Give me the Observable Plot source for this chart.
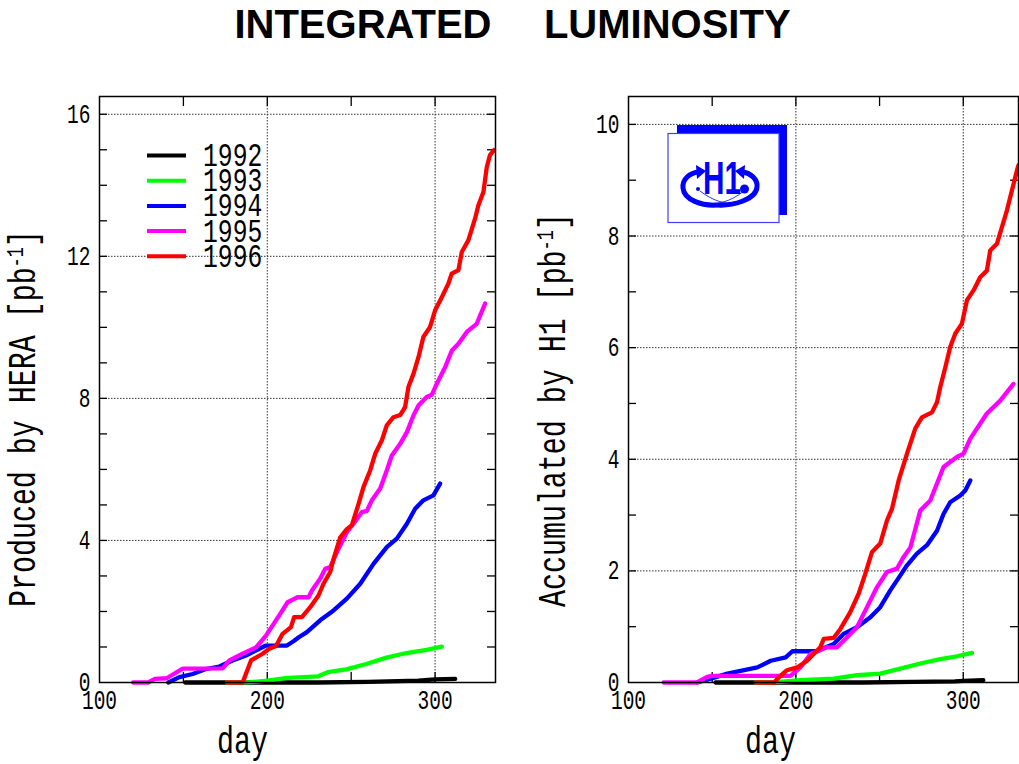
<!DOCTYPE html>
<html><head><meta charset="utf-8">
<script src="https://cdn.jsdelivr.net/npm/d3@7"></script>
<script src="https://cdn.jsdelivr.net/npm/@observablehq/plot@0.6"></script>
<style>
body{margin:0;background:#fff;width:1019px;height:764px;overflow:hidden;}
#title{height:60px;font:bold 40px "Liberation Sans",Arial,sans-serif;text-align:center;white-space:pre;word-spacing:2px;line-height:48px;padding-left:6px;box-sizing:border-box;color:#000;}
#row{display:flex;}
</style></head><body>
<div id="title">INTEGRATED    LUMINOSITY</div>
<div id="row"><div id="left"></div><div id="right"></div></div>
<script>
const years = ["1992", "1993", "1994", "1995", "1996"];
const colors = ["#000000", "#00ff00", "#0000ff", "#ff00ff", "#ff0000"];

// Produced by HERA  [day, pb^-1]
const hera1992 = [[151,0],[230,0],[260,0.02],[290,0.05],[300,0.09],[312,0.1]];
const hera1993 = [[176,0],[190,0.01],[200,0.05],[212,0.13],[222,0.15],[230,0.17],[236,0.29],[247,0.37],[259,0.52],[271,0.7],[283,0.83],[295,0.92],[304,1.01]];
const hera1994 = [[141,0],[147.6,0.15],[155.5,0.24],[163.5,0.38],[171.4,0.45],[179.3,0.62],[187.3,0.76],[195.2,0.95],[199.2,1.04],[211.7,1.04],[215.6,1.16],[219,1.28],[223.6,1.42],[231.5,1.75],[239.5,2.03],[247.4,2.36],[255.4,2.78],[263.3,3.34],[271.2,3.81],[277.2,4.05],[283.2,4.47],[288.1,4.89],[293,5.13],[299,5.27],[303,5.6]];
const hera1995 = [[120,0],[129,0],[133,0.1],[140,0.12],[149.6,0.39],[173.4,0.4],[177.4,0.62],[185.3,0.81],[193.3,0.99],[199.2,1.32],[207.1,1.89],[212.1,2.26],[218,2.4],[224.6,2.4],[226.6,2.59],[231.5,2.92],[234.5,3.2],[237.5,3.25],[241.5,3.67],[247.4,4.23],[251.4,4.47],[256.4,4.8],[259.3,4.83],[262.3,5.13],[267.3,5.46],[271.2,5.97],[274.2,6.39],[279.2,6.72],[283.2,7.05],[287.1,7.52],[290.1,7.8],[295,8.04],[298,8.1],[301,8.41],[306,8.88],[310,9.35],[313.9,9.54],[318.9,9.87],[324.8,10.1],[329.8,10.67]];
const hera1996 = [[176,0],[185.3,0],[190.3,0.62],[197.2,0.81],[201.2,0.95],[205.2,1.03],[209.1,1.37],[214.1,1.56],[216,1.84],[220.6,1.84],[225.6,2.12],[230.5,2.45],[233.5,2.78],[237.5,3.11],[239.5,3.48],[243.5,4.09],[247.4,4.32],[250.4,4.43],[254.4,5.03],[257.3,5.5],[261.3,5.97],[264.3,6.44],[268.3,6.82],[271.2,7.24],[275.2,7.47],[279.2,7.53],[282.1,7.75],[284.1,8.32],[287.1,8.69],[290.1,9.16],[293,9.73],[297,10.01],[300,10.48],[304,10.85],[307.9,11.23],[309.9,11.51],[313.9,11.61],[315.9,12.12],[319.8,12.45],[323.8,13.06],[325.8,13.44],[328.8,13.81],[330.8,14.51],[332.7,14.85],[335.1,14.99]];

// Accumulated by H1  [day, pb^-1]
const h1y1992 = [[152,0],[240,0],[270,0.01],[295,0.02],[300,0.03],[312,0.04]];
const h1y1993 = [[176,0],[190,0.01],[202.7,0.04],[222.6,0.07],[236.5,0.13],[250.4,0.16],[262.4,0.25],[274.3,0.34],[286.3,0.42],[296.2,0.47],[305.2,0.53]];
const h1y1994 = [[141,0],[149.1,0.07],[159.1,0.16],[169.1,0.22],[177,0.27],[185,0.39],[193.9,0.45],[197.9,0.56],[212.8,0.56],[216.8,0.62],[222.6,0.69],[228.5,0.87],[236.5,0.99],[244.5,1.17],[250.4,1.35],[256.4,1.65],[262.4,1.92],[266.4,2.1],[272.3,2.31],[278.3,2.46],[284.3,2.72],[288.2,3.02],[292.2,3.23],[298.2,3.35],[301.2,3.44],[304.2,3.62]];
const h1y1995 = [[121,0],[141,0],[147,0.1],[150,0.12],[196.7,0.12],[202.7,0.27],[208.7,0.51],[218.6,0.63],[224.6,0.63],[230.6,0.81],[236.5,0.99],[242.5,1.35],[248.5,1.71],[254.4,1.98],[260.4,2.04],[264.4,2.25],[268.4,2.42],[274.3,3.08],[280.3,3.26],[288.2,3.86],[296.2,4.04],[300.2,4.1],[304.2,4.37],[314.1,4.82],[322.1,5.05],[330,5.35]];
const h1y1996 = [[176,0],[187,0],[190.7,0.12],[194.7,0.22],[200.7,0.27],[206.7,0.39],[214.6,0.63],[216.6,0.78],[222.6,0.8],[226.6,0.96],[232.5,1.26],[237.5,1.59],[241.5,1.95],[245.5,2.34],[250.4,2.49],[254.4,2.9],[257.4,3.11],[261.4,3.62],[266.4,4.1],[271.3,4.55],[275.3,4.75],[281.3,4.84],[284.3,5.02],[286.3,5.3],[289.3,5.65],[292.2,6.01],[295.2,6.25],[299.2,6.43],[302.2,6.85],[306.2,7.03],[310.1,7.26],[314.1,7.38],[316.1,7.74],[320.1,7.86],[323.1,8.16],[326.1,8.46],[329.1,8.82],[332.1,9.18],[333,9.27]];

const xTickLabels = [100, 200, 300];
const xGridTicks = [200, 300];
const xSmallTicks = [150, 200, 250, 300];
const heraYTicks = [0, 4, 8, 12, 16];
const heraYSmall = [1,2,3,4,5,6,7,8,9,10,11,12,13,14,15,16];
const h1YTicks = [0, 2, 4, 6, 8, 10];
const h1YSmall = [1,2,3,4,5,6,7,8,9,10];

function table(series) {
  return years.flatMap((year, i) => series[i].map(([day, lumi]) => ({year, day, lumi})));
}

const STRETCH = 1.37;
function stretch(svg) {
  d3.select(svg).selectAll("g[aria-label$='tick label'] text").each(function () {
    const t = this.getAttribute("transform") || "";
    this.setAttribute("transform", t + ` scale(1,${STRETCH})`);
  });
}

function panel({width, marginLeft, marginRight, xDomain, yDomain, yTicks, ySmall, data}) {
  const height = 704, marginTop = 36, marginBottom = 82;
  const pw = width - marginLeft - marginRight, ph = height - marginTop - marginBottom;
  const dotted = {stroke: "#333", strokeOpacity: 1, strokeWidth: 1, strokeDasharray: "1.5,1.5"};
  const tk = {stroke: "black", strokeWidth: 1.3};
  const svg = Plot.plot({
    width, height, marginLeft, marginRight, marginTop, marginBottom,
    style: {fontFamily: '"Liberation Mono", monospace', color: "black", background: "transparent", overflow: "visible"},
    x: {domain: xDomain},
    y: {domain: yDomain},
    color: {domain: years, range: colors},
    marks: [
      Plot.gridX(xGridTicks, dotted),
      Plot.gridY(yTicks.filter(d => d > 0), dotted),
      Plot.tickY(ySmall, {...tk, insetRight: pw - 8}),
      Plot.tickY(ySmall, {...tk, insetLeft: pw - 8}),
      Plot.tickX(xSmallTicks, {...tk, insetBottom: ph - 10}),
      Plot.tickX(xSmallTicks, {...tk, insetTop: ph - 10}),
      Plot.line(data, {x: "day", y: "lumi", z: "year", stroke: "year", strokeWidth: 4.3, strokeLinejoin: "round"}),
      Plot.frame({stroke: "black", strokeWidth: 1.5}),
      Plot.axisX(xTickLabels, {tickSize: 0, tickPadding: 8, fontSize: 19.5, label: null, tickFormat: d3.format("d")}),
      Plot.axisY(yTicks, {tickSize: 0, tickPadding: 9, fontSize: 19.5, label: null, tickFormat: d3.format("d")})
    ]
  });
  stretch(svg);
  return svg;
}

function addText(svg, x, y, size, str) {
  return d3.select(svg).append("text")
    .attr("transform", `translate(${x},${y}) scale(1,${STRETCH})`)
    .attr("text-anchor", "start")
    .attr("font-size", size).attr("fill", "black").text(str);
}
function yLabel(svg, x, y, main) {
  const t = d3.select(svg).append("text")
    .attr("transform", `translate(${x},${y}) rotate(-90) scale(1,${STRETCH})`)
    .attr("text-anchor", "start")
    .attr("font-size", 28.3).attr("fill", "black");
  t.append("tspan").text(main);
  t.append("tspan").attr("font-size", 17).attr("dy", -9).text("-1");
  t.append("tspan").attr("dy", 9).text("]");
}

// Left panel
const svgL = panel({width: 520, marginLeft: 99, marginRight: 25, xDomain: [100, 336], yDomain: [0, 16.5],
  yTicks: heraYTicks, ySmall: heraYSmall,
  data: table([hera1992, hera1993, hera1994, hera1995, hera1996])});
yLabel(svgL, 35, 547, "Produced by HERA [pb");
addText(svgL, 217, 693, 28.3, "day");
const lg = d3.select(svgL).append("g");
years.forEach((yr, i) => {
  const cy = 95.5 + i * 25.2;
  lg.append("line").attr("x1", 147).attr("x2", 186).attr("y1", cy).attr("y2", cy)
    .attr("stroke", colors[i]).attr("stroke-width", 4);
  lg.append("text").attr("transform", `translate(203,${cy + 10.5}) scale(1,${STRETCH})`)
    .attr("text-anchor", "start")
    .attr("font-size", 24.7).attr("fill", "black").text(yr);
});
document.getElementById("left").append(svgL);

// Right panel
const svgR = panel({width: 499, marginLeft: 108, marginRight: 1, xDomain: [100, 333], yDomain: [0, 10.5],
  yTicks: h1YTicks, ySmall: h1YSmall,
  data: table([h1y1992, h1y1993, h1y1994, h1y1995, h1y1996])});
yLabel(svgR, 45, 547, "Accumulated by H1 [pb");
addText(svgR, 225, 693, 28.3, "day");

// H1 logo
const logo = d3.select(svgR).append("g");
logo.append("rect").attr("x", 157).attr("y", 65).attr("width", 110).attr("height", 90).attr("fill", "#0000ff");
logo.append("rect").attr("x", 148).attr("y", 73.5).attr("width", 111).attr("height", 89).attr("fill", "white").attr("stroke", "#4040ff").attr("stroke-width", 1.2);
logo.append("path").attr("d", "M197,145 C182,146 164,140 163,128 C162,119 170,113 178,112")
  .attr("fill", "none").attr("stroke", "#0000ff").attr("stroke-width", 5);
logo.append("path").attr("d", "M176,105 L186,111 L177,119 Z").attr("fill", "#0000ff");
logo.append("path").attr("d", "M197,145 C212,146 236,140 237,127 C238,119 230,113 223,112")
  .attr("fill", "none").attr("stroke", "#0000ff").attr("stroke-width", 5);
logo.append("path").attr("d", "M225,105 L215,111 L224,119 Z").attr("fill", "#0000ff");
logo.append("path").attr("d", "M180,131 C192,140 205,146 222,142 M224,131 C210,142 196,146 180,142")
  .attr("fill", "none").attr("stroke", "#0000ff").attr("stroke-width", 0.8);
logo.append("text").attr("x", 183).attr("y", 134).attr("text-anchor", "start")
  .attr("font-family", '"Liberation Sans", Arial, sans-serif')
  .attr("font-weight", "bold").attr("font-size", 46).attr("fill", "#0000ff")
  .attr("textLength", 38).attr("lengthAdjust", "spacingAndGlyphs").text("H1");
logo.append("circle").attr("cx", 178).attr("cy", 129).attr("r", 2).attr("fill", "#0000ff");
logo.append("circle").attr("cx", 224.5).attr("cy", 129).attr("r", 4.5).attr("fill", "#0000ff");
document.getElementById("right").append(svgR);
</script></body></html>
